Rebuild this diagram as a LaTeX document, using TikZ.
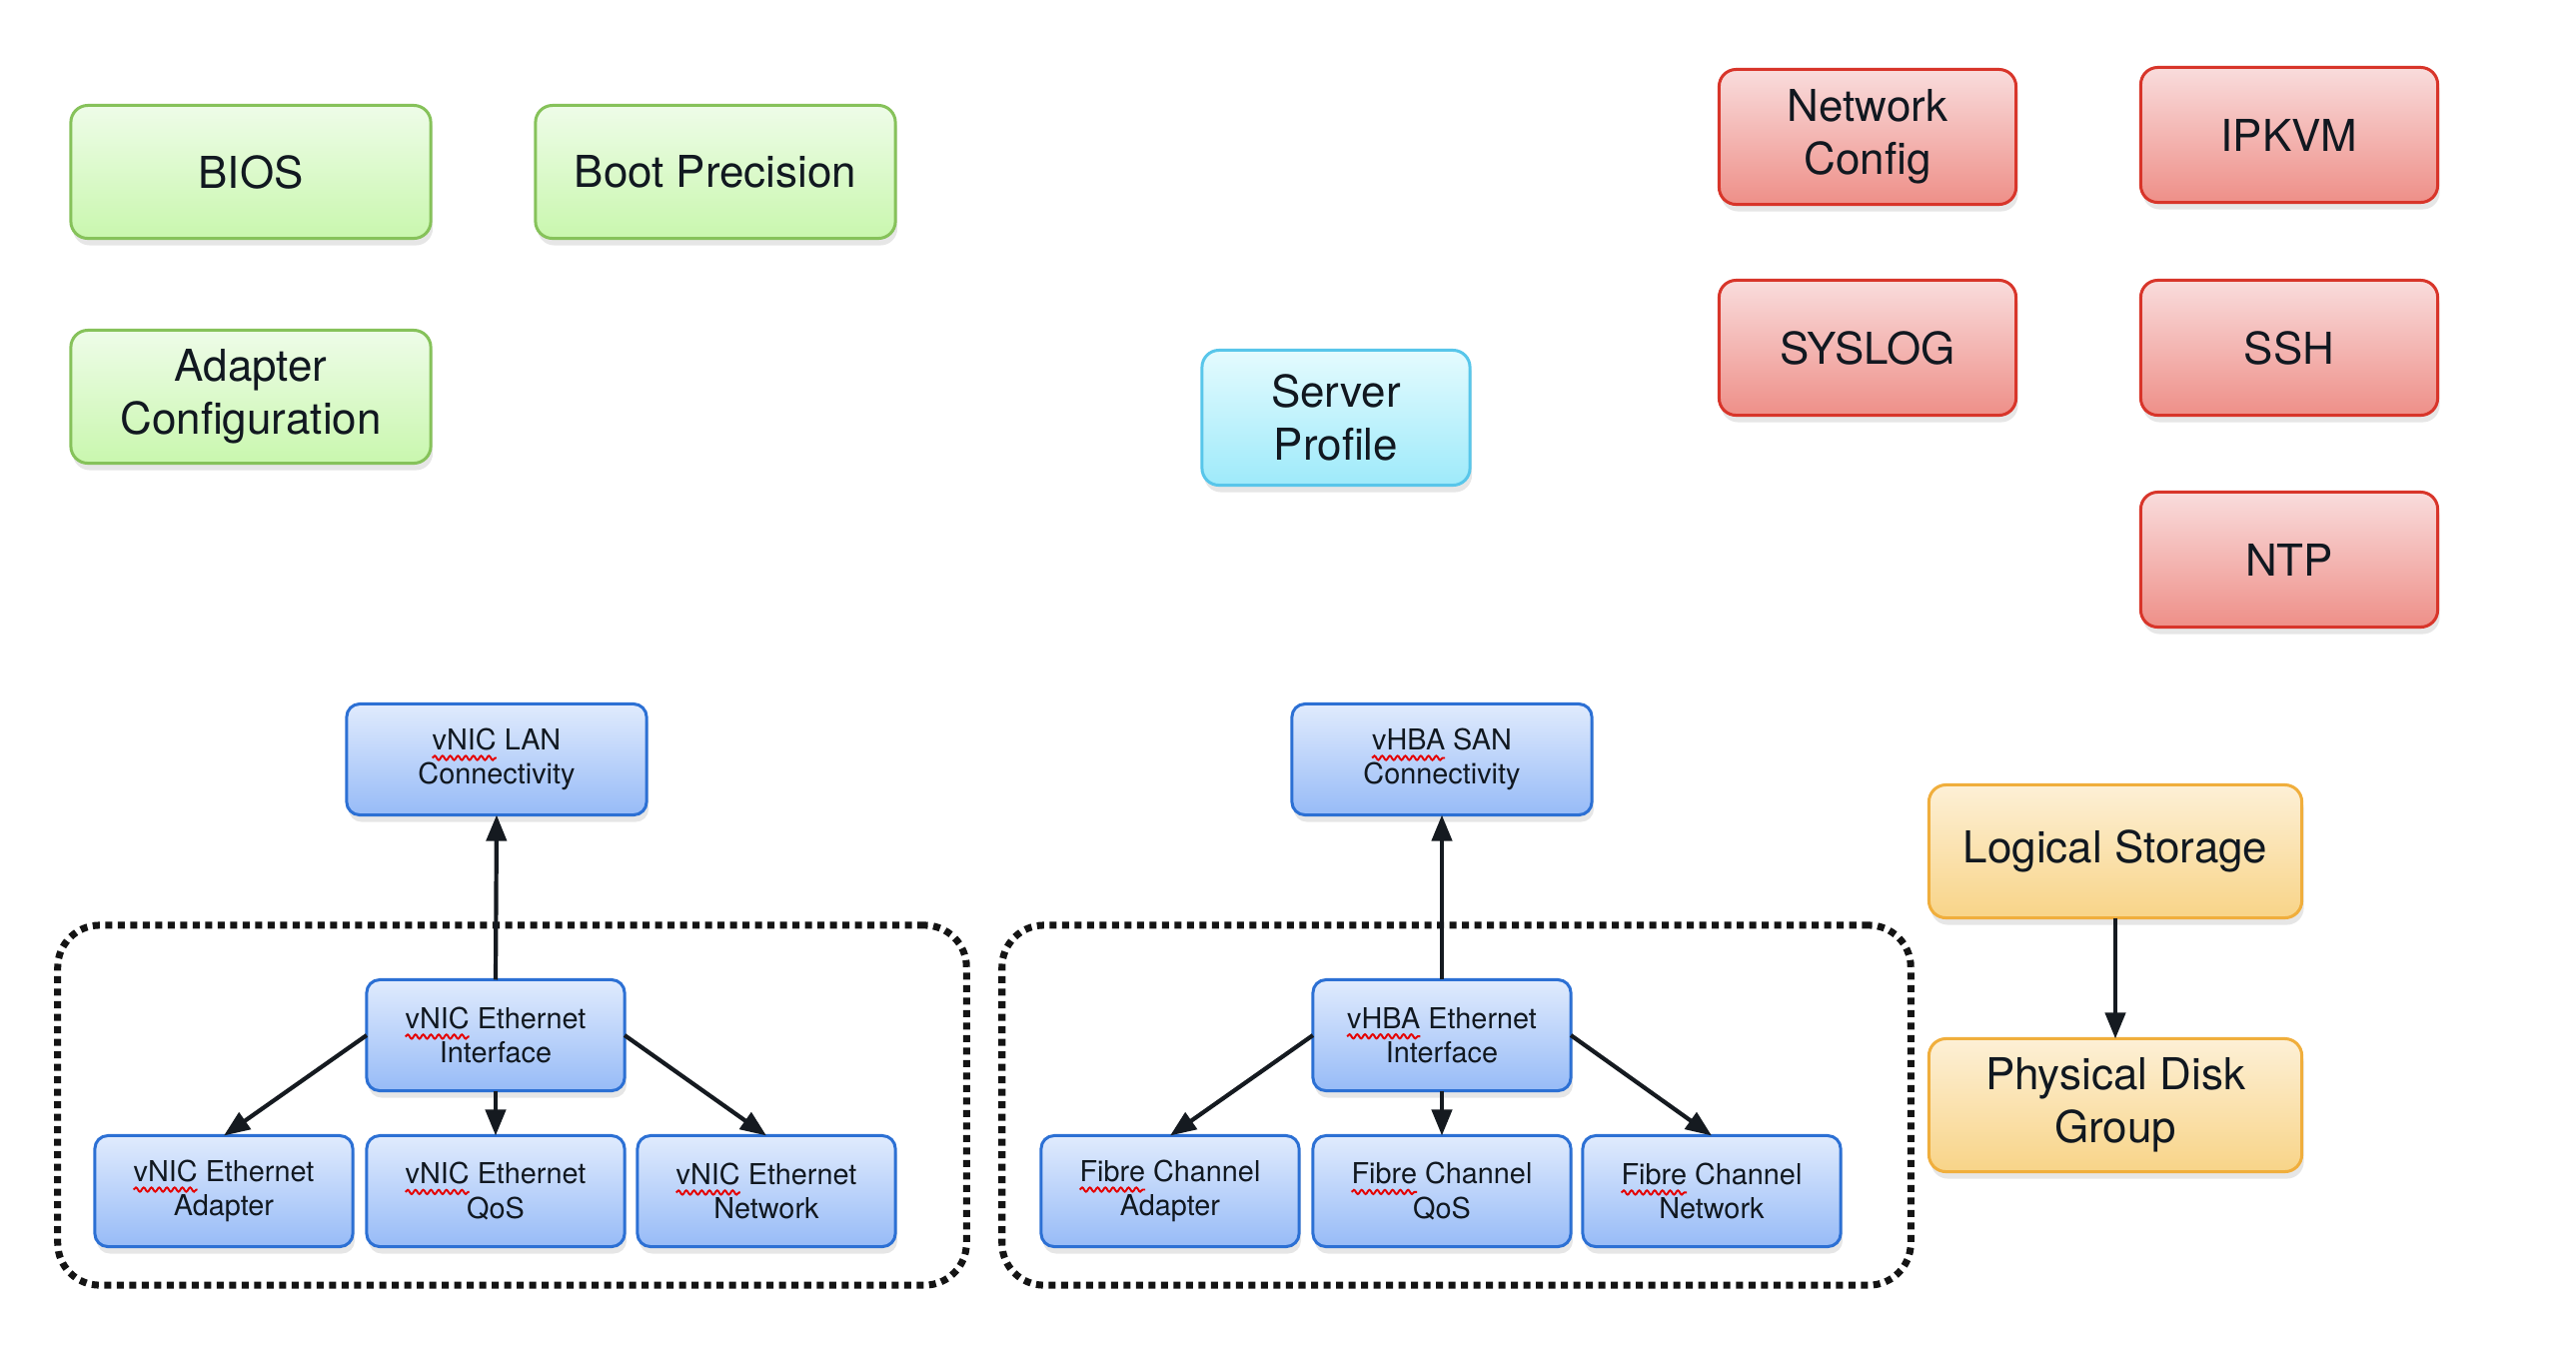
\documentclass[tikz,border=0pt]{standalone}
\usepackage{fontspec}
\setmainfont{TeX Gyre Heros}
\usetikzlibrary{shadows,arrows.meta,decorations.pathmorphing}
\definecolor{txt}{HTML}{111820}
\definecolor{gtop}{HTML}{EEFCE8}\definecolor{gbot}{HTML}{C9F7AE}\definecolor{gbord}{HTML}{86C25A}
\definecolor{rtop}{HTML}{F9DCDC}\definecolor{rbot}{HTML}{EE8F88}\definecolor{rbord}{HTML}{D8352A}
\definecolor{ctop}{HTML}{E4FBFE}\definecolor{cbot}{HTML}{9EEAFA}\definecolor{cbord}{HTML}{58C6EA}
\definecolor{btop}{HTML}{E0EBFD}\definecolor{bbot}{HTML}{97BBF7}\definecolor{bbord}{HTML}{2C70D4}
\definecolor{otop}{HTML}{FDF0D6}\definecolor{obot}{HTML}{F8D488}\definecolor{obord}{HTML}{F0AE3C}
\definecolor{arrc}{HTML}{151A20}
\newcommand\bigf{\fontsize{12.5pt}{15pt}\selectfont}
\newcommand\smallf{\fontsize{8.2pt}{9.8pt}\selectfont}
\newlength\lwA \newlength\lwB \newlength\lwC \newlength\lwD \newlength\lwE
\newlength\wwA \newlength\wwB \newlength\wwC
% squiggle under first word of first line of node #1 (base = last line): #2 = first-line width, #3 = word width
\newcommand\sq[3]{%
  \draw[squiggle] ([xshift=-0.5#2, yshift=7.5pt]#1.base) -- ([xshift=-0.5#2+#3, yshift=7.5pt]#1.base);}
\begin{document}
\settowidth\lwA{\smallf vNIC LAN}\settowidth\lwB{\smallf vNIC Ethernet}%
\settowidth\lwC{\smallf vHBA SAN}\settowidth\lwD{\smallf vHBA Ethernet}%
\settowidth\lwE{\smallf Fibre Channel}%
\settowidth\wwA{\smallf vNIC}\settowidth\wwB{\smallf vHBA}\settowidth\wwC{\smallf Fibre}%
\begin{tikzpicture}[x=0.01cm,y=-0.01cm,
  box/.style={rounded corners=0.17cm, line width=0.03cm, inner sep=0pt, outer sep=0pt, align=center, text=txt,
    drop shadow={shadow xshift=0.02cm,shadow yshift=-0.07cm,opacity=0.2}},
  gbox/.style={box, draw=gbord, top color=gtop, bottom color=gbot, minimum width=3.6cm, minimum height=1.33cm, font=\bigf},
  rbox/.style={box, draw=rbord, top color=rtop, bottom color=rbot, minimum width=2.97cm, minimum height=1.35cm, font=\bigf},
  cbox/.style={box, draw=cbord, top color=ctop, bottom color=cbot, minimum width=2.68cm, minimum height=1.35cm, font=\bigf},
  obox/.style={box, draw=obord, top color=otop, bottom color=obot, minimum width=3.73cm, minimum height=1.33cm, font=\bigf},
  bbox/.style={box, rounded corners=0.13cm, draw=bbord, top color=btop, bottom color=bbot, minimum width=2.58cm, minimum height=1.11cm, font=\smallf},
  wbox/.style={bbox, minimum width=3.0cm},
  cont/.style={draw=black!92, line width=0.07cm, dash pattern=on 0.07cm off 0.055cm, rounded corners=0.42cm, inner sep=0pt, minimum width=9.09cm, minimum height=3.6cm},
  arr/.style={line width=0.042cm, draw=arrc, -{Triangle[length=0.26cm,width=0.2cm]}},
  squiggle/.style={draw=red!90!black, line width=0.55pt, decorate, decoration={snake, amplitude=0.6pt, segment length=2.2pt}}
]
\useasboundingbox (0,0) rectangle (2578,1350);

% dotted groups
\node[cont] (lgrp) at (512.5,1106) {};
\node[cont] (rgrp) at (1457.5,1106) {};

% green
\node[gbox] (bios) at (251,172) {BIOS};
\node[gbox] (boot) at (716,172) {Boot Precision};
\node[gbox] (adcfg) at (251,397) {Adapter\\Configuration};

% red
\node[rbox] (netcfg) at (1869,137) {Network\\Config};
\node[rbox] (ipkvm) at (2291,135) {IPKVM};
\node[rbox] (syslog) at (1869,348) {SYSLOG};
\node[rbox] (ssh) at (2291,348) {SSH};
\node[rbox] (ntp) at (2291,560) {NTP};

% cyan
\node[cbox] (sp) at (1337,418) {Server\\Profile};

% orange
\node[obox] (ls) at (2117,852) {Logical Storage};
\node[obox] (pdg) at (2117,1106) {Physical Disk\\Group};

% blue left
\node[wbox] (lan) at (497,760) {vNIC LAN\\Connectivity};
\node[bbox] (vei) at (496,1036) {vNIC Ethernet\\Interface};
\node[bbox] (vea) at (224,1192) {vNIC Ethernet\\Adapter};
\node[bbox] (veq) at (496,1192) {vNIC Ethernet\\QoS};
\node[bbox] (ven) at (767,1192) {vNIC Ethernet\\Network};

% blue right
\node[wbox] (san) at (1443,760) {vHBA SAN\\Connectivity};
\node[bbox] (hei) at (1443,1036) {vHBA Ethernet\\Interface};
\node[bbox] (fca) at (1171,1192) {Fibre Channel\\Adapter};
\node[bbox] (fcq) at (1443,1192) {Fibre Channel\\QoS};
\node[bbox] (fcn) at (1713,1192) {Fibre Channel\\Network};

% spell-check squiggles
\sq{lan}{\lwA}{\wwA}
\sq{vei}{\lwB}{\wwA}
\sq{vea}{\lwB}{\wwA}
\sq{veq}{\lwB}{\wwA}
\sq{ven}{\lwB}{\wwA}
\sq{san}{\lwC}{\wwB}
\sq{hei}{\lwD}{\wwB}
\sq{fca}{\lwE}{\wwC}
\sq{fcq}{\lwE}{\wwC}
\sq{fcn}{\lwE}{\wwC}

% arrows
\draw[arr] (vei.north) -- (lan.south);
\draw[arr] (vei.west) -- (vea.north);
\draw[arr] (vei.south) -- (veq.north);
\draw[arr] (vei.east) -- (ven.north);
\draw[arr] (hei.north) -- (san.south);
\draw[arr] (hei.west) -- (fca.north);
\draw[arr] (hei.south) -- (fcq.north);
\draw[arr] (hei.east) -- (fcn.north);
\draw[arr] (ls.south) -- (pdg.north);
\end{tikzpicture}
\end{document}
